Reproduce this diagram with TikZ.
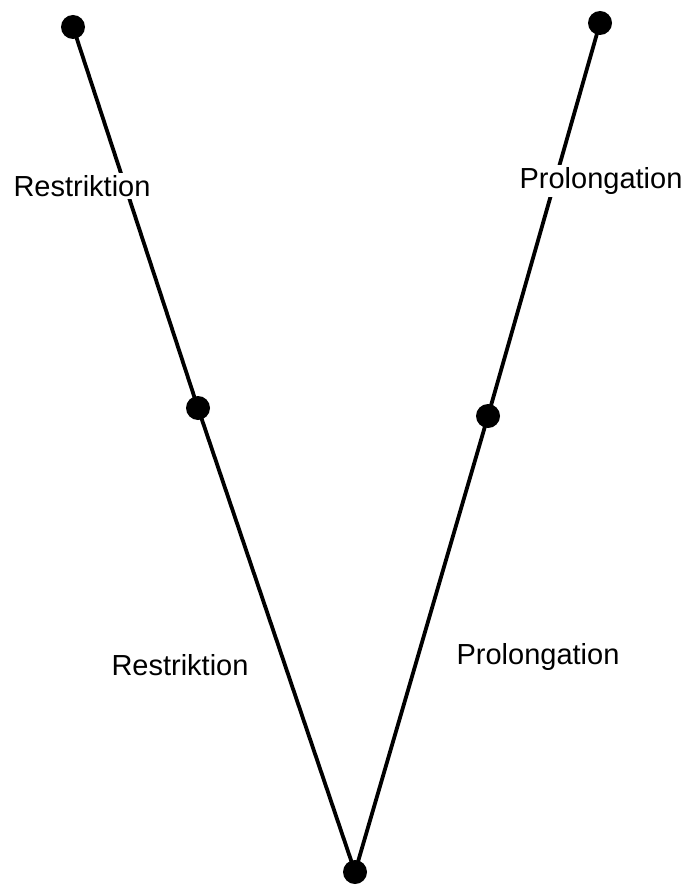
\documentclass[tikz,border=0pt]{standalone}
\usepackage{fontspec}
\setmainfont{Liberation Sans}
\begin{document}
\begin{tikzpicture}[x=1pt,y=-1pt,
  dot/.style={circle,fill=black,inner sep=0pt,minimum size=24pt},
  edge/.style={line width=3.8pt},
  lbl/.style={inner sep=2pt,fill=white,font=\fontsize{29}{34}\selectfont}]
\useasboundingbox (0,0) rectangle (688,885);
\node[dot] (a) at (73,27) {};
\node[dot] (b) at (198,408) {};
\node[dot] (c) at (355,872) {};
\node[dot] (d) at (488,416) {};
\node[dot] (e) at (600,23) {};
\draw[edge] (a.center) -- (b.center);
\draw[edge] (b.center) -- (c.center);
\draw[edge] (c.center) -- (d.center);
\draw[edge] (d.center) -- (e.center);
\node[lbl] (l1) at (82,186) {Restriktion};
\node[lbl] (l2) at (601,181) {Prolongation};
\node[lbl] (l3) at (180,665) {Restriktion};
\node[lbl] (l4) at (538,657) {Prolongation};
\end{tikzpicture}
\end{document}
